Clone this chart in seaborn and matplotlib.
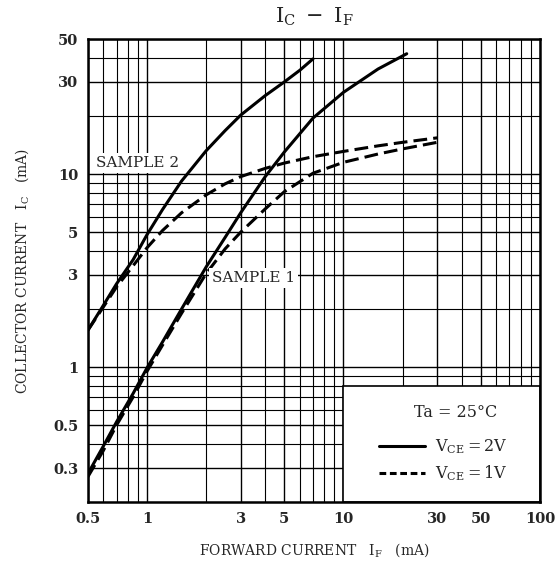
import matplotlib
matplotlib.use("Agg")
import matplotlib.pyplot as plt
import matplotlib.patches as mpatches
from matplotlib.lines import Line2D
from matplotlib.ticker import FixedLocator, LogLocator, NullFormatter
import pandas as pd
import seaborn as sns

# sample 2, VCE = 2V
s2_vce2_if = [0.5, 0.6, 0.7, 0.85, 1.0, 1.2, 1.5, 2.0, 2.5, 3.0, 4.0, 5.0, 6.0, 7.0]
s2_vce2_ic = [1.55, 2.09, 2.7, 3.6, 4.85, 6.55, 9.2, 13.2, 16.8, 20.2, 25.5, 30.0, 34.5, 39.5]
# sample 2, VCE = 1V
s2_vce1_if = [0.5, 0.6, 0.7, 0.85, 1.0, 1.2, 1.5, 2.0, 2.5, 3.0, 4.0, 5.0, 7.0, 10, 15, 20, 30]
s2_vce1_ic = [1.55, 2.05, 2.6, 3.35, 4.15, 5.1, 6.3, 7.8, 8.9, 9.7, 10.7, 11.4, 12.3, 13.1, 14.0, 14.6, 15.4]
# sample 1, VCE = 2V
s1_vce2_if = [0.5, 0.6, 0.7, 0.85, 1.0, 1.2, 1.5, 2.0, 2.5, 3.0, 4.0, 5.0, 7.0, 10, 15, 21]
s1_vce2_ic = [0.28, 0.39, 0.52, 0.73, 0.99, 1.35, 2.0, 3.3, 4.7, 6.3, 9.7, 13.0, 19.5, 26.5, 35.0, 42.0]
# sample 1, VCE = 1V
s1_vce1_if = [0.5, 0.6, 0.7, 0.85, 1.0, 1.2, 1.5, 2.0, 2.5, 3.0, 4.0, 5.0, 7.0, 10, 15, 20, 30]
s1_vce1_ic = [0.27, 0.37, 0.5, 0.7, 0.95, 1.3, 1.9, 3.05, 4.1, 5.0, 6.6, 8.1, 10.1, 11.5, 12.7, 13.5, 14.6]

x_ticks = [0.5, 1, 3, 5, 10, 30, 50, 100]
x_tick_labels = ["0.5", "1", "3", "5", "10", "30", "50", "100"]
y_ticks = [0.3, 0.5, 1, 3, 5, 10, 30, 50]
y_tick_labels = ["0.3", "0.5", "1", "3", "5", "10", "30", "50"]

curves = [
    ("SAMPLE 2", "2V", s2_vce2_if, s2_vce2_ic),
    ("SAMPLE 2", "1V", s2_vce1_if, s2_vce1_ic),
    ("SAMPLE 1", "2V", s1_vce2_if, s1_vce2_ic),
    ("SAMPLE 1", "1V", s1_vce1_if, s1_vce1_ic),
]

sns.set_theme(style="white")
plt.rcParams["font.family"] = ["DejaVu Serif"]
plt.rcParams["mathtext.fontset"] = "dejavuserif"

fig = plt.figure(figsize=(5.56, 5.67), dpi=100)
ax = fig.add_axes([0.158, 0.1146, 0.813, 0.8164])
ax.set_xscale("log")
ax.set_yscale("log")
ax.set_xlim(0.5, 100)
ax.set_ylim(0.2, 50)

# dense log grid like the datasheet paper
ax.xaxis.set_minor_locator(LogLocator(base=10, subs=range(2, 10), numticks=20))
ax.yaxis.set_minor_locator(LogLocator(base=10, subs=range(2, 10), numticks=20))
ax.xaxis.set_minor_formatter(NullFormatter())
ax.yaxis.set_minor_formatter(NullFormatter())
ax.grid(True, which="major", color="black", lw=1.0, zorder=0)
ax.grid(True, which="minor", color="black", lw=0.8, zorder=0)
ax.set_axisbelow(True)

for sample, vce, xs, ys in curves:
    df = pd.DataFrame({"IF": xs, "IC": ys})
    ls = "-" if vce == "2V" else (0, (4.5, 2))
    sns.lineplot(data=df, x="IF", y="IC", ax=ax, color="black", lw=2.2,
                 linestyle=ls, sort=True, estimator=None, zorder=4)

ax.xaxis.set_major_locator(FixedLocator(x_ticks))
ax.yaxis.set_major_locator(FixedLocator(y_ticks))
ax.set_xticklabels(x_tick_labels, fontsize=10.5, fontweight="bold")
ax.set_yticklabels(y_tick_labels, fontsize=10.5, fontweight="bold")
ax.tick_params(which="major", length=3, width=1, color="black", pad=4)
ax.tick_params(which="minor", length=0)
for s in ax.spines.values():
    s.set_color("black")
    s.set_linewidth(1.8)
    s.set_zorder(6)

# legend panel blanks the grid in the lower right
ax.add_patch(mpatches.Rectangle((10, 0.2), 90, 0.6, facecolor="white",
                                edgecolor="black", lw=1.2, zorder=3))
ax.text(0.553, 11.4, "SAMPLE 2", fontsize=11, va="center", ha="left", zorder=5,
        bbox=dict(facecolor="white", edgecolor="none", pad=2))
ax.text(2.14, 2.9, "SAMPLE 1", fontsize=11, va="center", ha="left", zorder=5,
        bbox=dict(facecolor="white", edgecolor="none", pad=2))

ax.text(23, 0.58, "Ta = 25°C", fontsize=11.5, va="center", ha="left", zorder=5)
handles = [
    Line2D([], [], color="black", lw=2.2, linestyle="-"),
    Line2D([], [], color="black", lw=2.2, linestyle=(0, (2.2, 1.2))),
]
leg = ax.legend(handles, [r"$\mathregular{V_{CE} = 2V}$", r"$\mathregular{V_{CE} = 1V}$"],
                loc="lower right", bbox_to_anchor=(0.96, 0.01), frameon=False,
                fontsize=11.5, handlelength=2.9, handletextpad=0.6, labelspacing=0.45)
leg.set_zorder(5)

ax.set_title(r"$\mathregular{I_C\ -\ I_F}$", fontsize=15, pad=12)
ax.set_xlabel(r"FORWARD CURRENT   $\mathregular{I_F}$   (mA)", fontsize=10, labelpad=11)
ax.set_ylabel(r"COLLECTOR CURRENT   $\mathregular{I_C}$   (mA)", fontsize=10, labelpad=16)

fig.savefig("out.png", dpi=100)
